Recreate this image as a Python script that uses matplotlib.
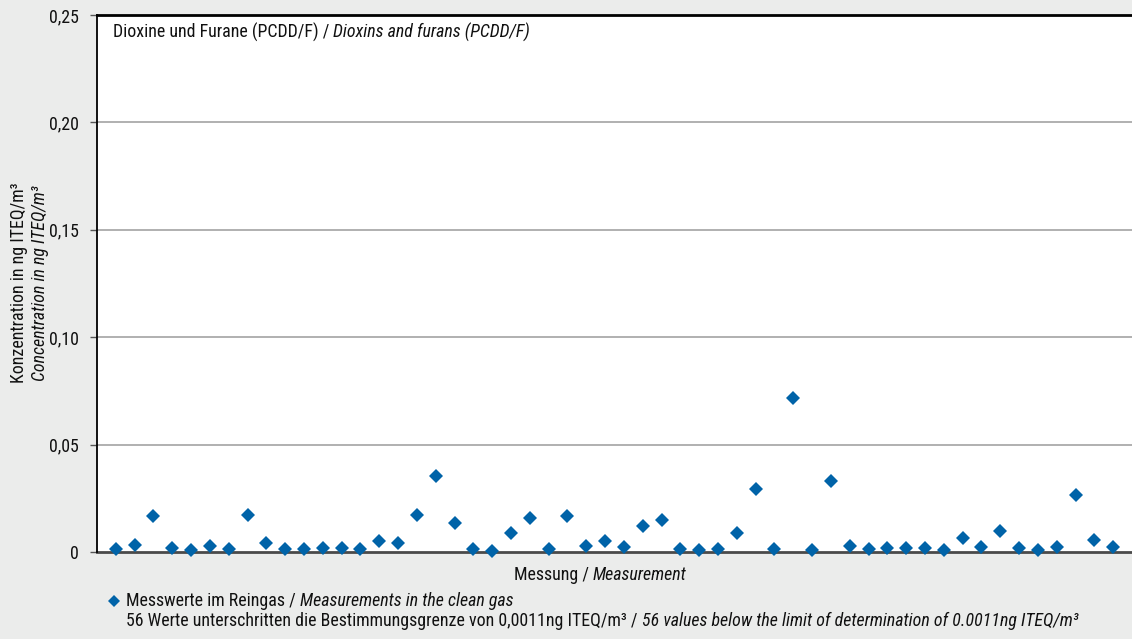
import matplotlib
matplotlib.use("Agg")
import matplotlib.pyplot as plt
import numpy as np

# ---- data ----
values = [0.0014, 0.0033, 0.0168, 0.0019, 0.0010, 0.0028, 0.0014, 0.0172, 0.0042, 0.0014,
          0.0014, 0.0019, 0.0019, 0.0014, 0.0051, 0.0042, 0.0172, 0.0354, 0.0135, 0.0014,
          0.0005, 0.0088, 0.0158, 0.0014, 0.0168, 0.0028, 0.0051, 0.0023, 0.0121, 0.0149,
          0.0014, 0.0010, 0.0014, 0.0088, 0.0293, 0.0014, 0.0717, 0.0010, 0.0330, 0.0028,
          0.0014, 0.0019, 0.0019, 0.0019, 0.0010, 0.0065, 0.0023, 0.0098, 0.0019, 0.0010,
          0.0023, 0.0265, 0.0056, 0.0023]
ytick_values = [0, 0.05, 0.10, 0.15, 0.20, 0.25]
ytick_labels = ["0", "0,05", "0,10", "0,15", "0,20", "0,25"]
title_de = "Dioxine und Furane (PCDD/F) /"
title_en = "Dioxins and furans (PCDD/F)"
ylabel_de = "Konzentration in ng ITEQ/m³"
ylabel_en = "Concentration in ng ITEQ/m³"
xlabel_de = "Messung /"
xlabel_en = "Measurement"
legend_de = "Messwerte im Reingas /"
legend_en = "Measurements in the clean gas"
note_de = "56 Werte unterschritten die Bestimmungsgrenze von 0,0011ng ITEQ/m³ /"
note_en = "56 values below the limit of determination of 0.0011ng ITEQ/m³"

W, H = 1132, 639
BG = "#ebeceb"
BLUE = "#0063a8"
TXT = "#111111"
plt.rcParams['font.family'] = ['Roboto Condensed', 'DejaVu Sans']

fig = plt.figure(figsize=(W / 100, H / 100), dpi=100, facecolor=BG)
fig.canvas.draw()
renderer = fig.canvas.get_renderer()
GAP = 4.0


def parts_width(parts, fs):
    total = 0
    for txt, style in parts:
        t = fig.text(0, 0, txt, style=style, fontsize=fs)
        total += t.get_window_extent(renderer).width
        t.remove()
    return total + GAP * (len(parts) - 1)


# choose font size so the long note spans the same width as in the reference (~960 px)
note_parts = [(note_de, "normal"), (note_en, "italic")]
FS = 12.5
FS = FS * 958.0 / parts_width(note_parts, FS)

ax = fig.add_axes([97 / W, 1 - 552 / H, (W - 97) / W, (552 - 15) / H])
ax.set_facecolor("white")

x = np.arange(1, len(values) + 1)
ax.plot(x, values, linestyle="none", marker="D", markersize=7.4, color=BLUE,
        markeredgewidth=0, zorder=3, clip_on=False)

ax.set_xlim(0, len(values) + 1)
ax.set_ylim(0, 0.25)
ax.set_yticks(ytick_values)
ax.set_yticklabels(ytick_labels, fontsize=FS, color=TXT)
ax.set_xticks([])
ax.tick_params(axis="y", length=5, width=1.0, color="#555555", pad=8)
for yv in ytick_values[1:-1]:
    ax.axhline(yv, color="#aaaaaa", lw=1.3, zorder=1)

ax.spines["right"].set_visible(False)
ax.spines["top"].set_color("black")
ax.spines["top"].set_linewidth(2.0)
ax.spines["left"].set_color("black")
ax.spines["left"].set_linewidth(1.3)
ax.spines["bottom"].set_color("#4a4a4a")
ax.spines["bottom"].set_linewidth(2.0)
ax.spines["bottom"].set_zorder(2)


def mixed(xpx, ypx, parts):
    cur = xpx
    for txt, style in parts:
        t = fig.text(cur / W, 1 - ypx / H, txt, style=style, fontsize=FS,
                     ha="left", va="center", color=TXT)
        bb = t.get_window_extent(renderer)
        cur = bb.x1 + GAP
    return cur


# title inside plot
mixed(113, 32, [(title_de, "normal"), (title_en, "italic")])

# x label centered
xl_parts = [(xlabel_de, "normal"), (xlabel_en, "italic")]
wx = parts_width(xl_parts, FS)
mixed(600 - wx / 2, 575, xl_parts)

# y labels
fig.text(19 / W, 1 - 283 / H, ylabel_de, rotation=90, fontsize=FS, ha="center", va="center",
         color=TXT)
fig.text(40 / W, 1 - 283 / H, ylabel_en, rotation=90, fontsize=FS, style="italic",
         ha="center", va="center", color=TXT)

# legend
fig.lines.append(matplotlib.lines.Line2D([114 / W], [1 - 601 / H], transform=fig.transFigure,
                                         marker="D", markersize=6.4, color=BLUE,
                                         markeredgewidth=0, linestyle="none"))
mixed(126, 601, [(legend_de, "normal"), (legend_en, "italic")])
mixed(126, 621, note_parts)

fig.savefig("out.png", dpi=100, facecolor=BG)
